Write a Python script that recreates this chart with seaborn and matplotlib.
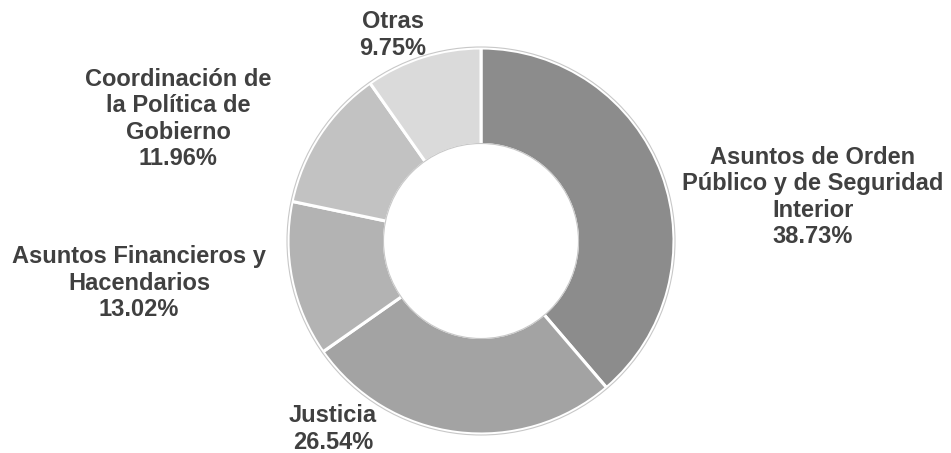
import matplotlib
matplotlib.use("Agg")
import matplotlib.pyplot as plt
import seaborn as sns

# Datos del gráfico (porcentajes por función)
categorias = ["Asuntos de Orden\nPúblico y de Seguridad\nInterior", "Justicia",
              "Asuntos Financieros y\nHacendarios", "Coordinación de\nla Política de\nGobierno",
              "Otras"]
porcentajes = [38.73, 26.54, 13.02, 11.96, 9.75]
colores = ["#8c8c8c", "#a3a3a3", "#b3b3b3", "#c2c2c2", "#dadada"]

# Posición de cada etiqueta (pixeles de la figura)
pos_etiquetas = [(813, 197), (333, 429), (139, 283), (178, 119), (393, 35)]

sns.set_theme(style="white")
plt.rcParams['font.family'] = ['Liberation Sans', 'DejaVu Sans']

fig = plt.figure(figsize=(9.51, 4.53), dpi=100)
ax = fig.add_axes([0, 0, 1, 1])

# Dona: centro y radio en coordenadas de pixeles
centro = (481, 453 - 241)
radio = 193

wedges, _ = ax.pie(porcentajes, colors=colores, startangle=90, counterclock=False,
                   center=centro, radius=radio,
                   wedgeprops=dict(width=radio * 0.5, edgecolor="white", linewidth=2.2))

# contorno gris fino exterior e interior
for r in [radio, radio * 0.5]:
    circ = plt.Circle(centro, r + 1, fill=False, edgecolor="#c8c8c8", linewidth=0.8)
    ax.add_patch(circ)

for cat, pct, (x, y) in zip(categorias, porcentajes, pos_etiquetas):
    ax.text(x, 453 - y, f"{cat}\n{pct:.2f}%", ha="center", va="center",
            fontsize=17, fontweight="bold", color="#404040", linespacing=1.2)

ax.set_xlim(0, 951)
ax.set_ylim(0, 453)
ax.set_aspect("equal")
ax.axis("off")

plt.savefig("out.png", dpi=100)
